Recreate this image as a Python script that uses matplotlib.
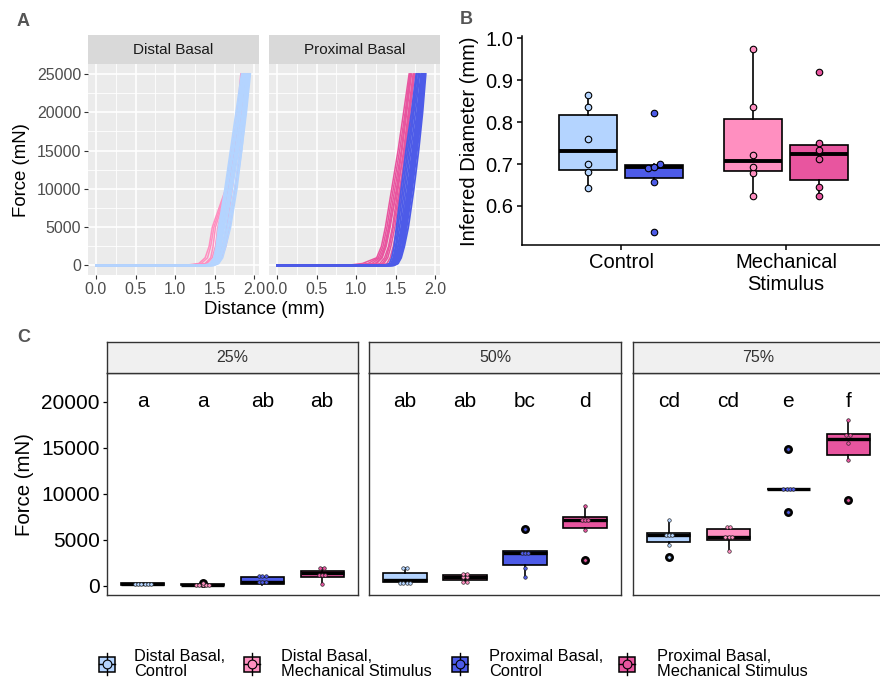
import numpy as np
import matplotlib.pyplot as plt
from matplotlib.patches import Rectangle
from matplotlib.ticker import MultipleLocator

plt.rcParams['font.family'] = ['Liberation Sans', 'DejaVu Sans']

W, H = 880, 684

GROUPS = ["Distal Basal,\nControl", "Distal Basal,\nMechanical Stimulus",
          "Proximal Basal,\nControl", "Proximal Basal,\nMechanical Stimulus"]
COLORS = ["#B4D4FF", "#FF8FC0", "#4D5BE8", "#E8559F"]

# ---- panel A: force-distance curves (distance read at each force level)
FORCE_LEVELS = [0, 0, 250, 1000, 2500, 5000, 10000, 15000, 20000, 25000]
DISTAL_CONTROL = [
    [0, 1.36, 1.44, 1.49, 1.52, 1.55, 1.63, 1.70, 1.77, 1.84],
    [0, 1.40, 1.47, 1.51, 1.54, 1.57, 1.65, 1.72, 1.79, 1.85],
    [0, 1.42, 1.49, 1.52, 1.55, 1.58, 1.66, 1.74, 1.81, 1.87],
    [0, 1.44, 1.50, 1.54, 1.57, 1.60, 1.68, 1.76, 1.83, 1.89],
    [0, 1.45, 1.51, 1.55, 1.58, 1.62, 1.70, 1.78, 1.85, 1.90],
    [0, 1.46, 1.52, 1.56, 1.60, 1.64, 1.72, 1.80, 1.87, 1.92],
    [0, 1.47, 1.53, 1.57, 1.61, 1.66, 1.75, 1.82, 1.88, 1.93],
    [0, 1.49, 1.54, 1.58, 1.62, 1.68, 1.77, 1.84, 1.90, 1.95],
    [0, 1.43, 1.50, 1.53, 1.56, 1.59, 1.69, 1.79, 1.86, 1.91],
    [0, 1.41, 1.48, 1.52, 1.55, 1.61, 1.71, 1.77, 1.82, 1.88],
    [0, 1.48, 1.55, 1.60, 1.64, 1.70, 1.78, 1.84, 1.89, 1.94],
    [0, 1.39, 1.46, 1.50, 1.53, 1.56, 1.64, 1.73, 1.80, 1.86],
]
DISTAL_STIM = [
    [0, 1.12, 1.30, 1.38, 1.43, 1.47, 1.64, 1.72, 1.79, 1.83],
    [0, 1.18, 1.33, 1.41, 1.45, 1.49, 1.65, 1.73, 1.80, 1.84],
    [0, 1.22, 1.38, 1.45, 1.48, 1.51, 1.66, 1.74, 1.81, 1.85],
    [0, 1.30, 1.44, 1.50, 1.53, 1.56, 1.67, 1.75, 1.82, 1.86],
    [0, 1.38, 1.48, 1.55, 1.60, 1.65, 1.72, 1.79, 1.85, 1.90],
    [0, 1.45, 1.53, 1.59, 1.64, 1.69, 1.76, 1.82, 1.87, 1.92],
    [0, 1.35, 1.46, 1.51, 1.55, 1.60, 1.68, 1.76, 1.83, 1.87],
    [0, 1.25, 1.40, 1.47, 1.51, 1.54, 1.66, 1.75, 1.82, 1.86],
]
PROXIMAL_CONTROL = [
    [0, 1.36, 1.42, 1.45, 1.48, 1.51, 1.57, 1.63, 1.70, 1.76],
    [0, 1.38, 1.44, 1.47, 1.50, 1.53, 1.59, 1.65, 1.72, 1.77],
    [0, 1.40, 1.45, 1.48, 1.51, 1.55, 1.61, 1.67, 1.73, 1.79],
    [0, 1.41, 1.46, 1.50, 1.53, 1.57, 1.63, 1.69, 1.75, 1.80],
    [0, 1.43, 1.48, 1.51, 1.55, 1.59, 1.65, 1.71, 1.77, 1.82],
    [0, 1.44, 1.49, 1.53, 1.56, 1.60, 1.67, 1.73, 1.79, 1.84],
    [0, 1.45, 1.50, 1.54, 1.58, 1.62, 1.69, 1.75, 1.81, 1.85],
    [0, 1.47, 1.52, 1.56, 1.60, 1.64, 1.71, 1.77, 1.83, 1.87],
    [0, 1.48, 1.53, 1.57, 1.61, 1.66, 1.73, 1.79, 1.84, 1.88],
    [0, 1.42, 1.47, 1.52, 1.56, 1.61, 1.68, 1.74, 1.80, 1.84],
    [0, 1.39, 1.45, 1.49, 1.53, 1.58, 1.66, 1.72, 1.78, 1.83],
    [0, 1.46, 1.51, 1.55, 1.59, 1.63, 1.70, 1.76, 1.82, 1.86],
]
PROXIMAL_STIM = [
    [0, 0.88, 1.08, 1.26, 1.32, 1.37, 1.45, 1.53, 1.60, 1.67],
    [0, 0.95, 1.15, 1.28, 1.34, 1.39, 1.47, 1.55, 1.62, 1.68],
    [0, 1.05, 1.20, 1.30, 1.36, 1.41, 1.49, 1.57, 1.63, 1.69],
    [0, 1.15, 1.26, 1.33, 1.38, 1.43, 1.51, 1.58, 1.64, 1.70],
    [0, 1.22, 1.30, 1.36, 1.41, 1.46, 1.53, 1.60, 1.66, 1.72],
    [0, 1.28, 1.35, 1.40, 1.44, 1.49, 1.56, 1.62, 1.68, 1.74],
    [0, 1.32, 1.39, 1.43, 1.47, 1.52, 1.59, 1.65, 1.71, 1.76],
    [0, 1.25, 1.33, 1.38, 1.42, 1.47, 1.55, 1.63, 1.70, 1.77],
    [0, 1.10, 1.24, 1.32, 1.37, 1.42, 1.52, 1.61, 1.67, 1.73],
]

# ---- panel B: inferred diameter (mm)
TREATMENTS = ["Control", "Mechanical\nStimulus"]
DIAM_DISTAL_CONTROL = [0.644, 0.681, 0.701, 0.760, 0.837, 0.864]
DIAM_PROXIMAL_CONTROL = [0.537, 0.658, 0.691, 0.694, 0.699, 0.822]
DIAM_DISTAL_STIM = [0.623, 0.679, 0.694, 0.721, 0.836, 0.975]
DIAM_PROXIMAL_STIM = [0.623, 0.645, 0.713, 0.734, 0.750, 0.919]

# ---- panel C: force at 25/50/75 % (box stats per level, per group)
LEVELS = ["25%", "50%", "75%"]
C_Q1 = [[110, 30, 190, 950], [450, 650, 2300, 6300], [4700, 5020, 10480, 14200]]
C_MED = [[190, 90, 380, 1420], [620, 900, 3580, 7150], [5550, 5300, 10480, 16000]]
C_Q3 = [[260, 170, 980, 1620], [1400, 1150, 3800, 7430], [5720, 6130, 10480, 16450]]
C_WLO = [[80, 0, 120, 150], [330, 450, 1000, 6050], [4400, 3770, 10480, 13660]]
C_WHI = [[320, 210, 1050, 1950], [1900, 1300, 3800, 8700], [7100, 6380, 10480, 17980]]
C_FLIERS = [[[], [330], [], []],
            [[], [], [6160], [2830]],
            [[3100], [], [8045, 14860], [9315]]]
C_POINTS = [
    [[205, 205, 210, 210, 215, 215], [100, 105, 110, 115, 120],
     [370, 380, 390, 1030, 1040, 1050], [150, 1120, 1130, 1140, 1950, 1960]],
    [[330, 330, 330, 330, 1890, 1900], [450, 450, 900, 900, 1300, 1300],
     [1000, 1960, 3560, 3580, 3600], [6050, 7130, 7150, 7170, 8700]],
    [[4390, 5540, 5550, 5560, 7110], [3770, 5290, 5300, 5310, 6370, 6390],
     [10470, 10480, 10490, 10500], [13660, 15540, 16390, 16410, 17980]],
]
C_LETTERS = [["a", "a", "ab", "ab"], ["ab", "ab", "bc", "d"], ["cd", "cd", "e", "f"]]


def px_box(l, t, r, b):
    return [l / W, 1 - b / H, (r - l) / W, (b - t) / H]


def swarm(vals, tol, step):
    vals = np.asarray(vals, float)
    order = np.argsort(vals)
    offs = np.zeros(len(vals))
    groups, cur = [], [order[0]]
    for i in order[1:]:
        if vals[i] - vals[cur[-1]] < tol:
            cur.append(i)
        else:
            groups.append(cur)
            cur = [i]
    groups.append(cur)
    for g in groups:
        for k, idx in enumerate(g):
            offs[idx] = (k - (len(g) - 1) / 2) * step
    return offs


def strip(rect, label, face, size, edge=None, color='#1A1A1A'):
    s = fig.add_axes(rect)
    s.set_facecolor(face)
    s.set_xticks([])
    s.set_yticks([])
    for sp in s.spines.values():
        if edge is None:
            sp.set_visible(False)
        else:
            sp.set_color(edge)
            sp.set_linewidth(1.0)
    s.text(0.5, 0.5, label, ha='center', va='center', fontsize=size,
           color=color, transform=s.transAxes)


fig = plt.figure(figsize=(W / 100, H / 100), dpi=100)

# ================= A =================
panels_a = [("Distal Basal", DISTAL_CONTROL, DISTAL_STIM, COLORS[0], COLORS[1], 88, 259),
            ("Proximal Basal", PROXIMAL_CONTROL, PROXIMAL_STIM, COLORS[2], COLORS[3], 269, 440)]
for k, (name, ctrl, stim, c_ctrl, c_stim, left, right) in enumerate(panels_a):
    ax = fig.add_axes(px_box(left, 64, right, 275))
    ax.set_facecolor('#EBEBEB')
    for d in stim:
        ax.plot(d, FORCE_LEVELS, color=c_stim, lw=1.1, zorder=2)
    for d in ctrl:
        ax.plot(d, FORCE_LEVELS, color=c_ctrl, lw=1.3, zorder=3)
    ax.set_xlim(-0.1, 2.06)
    ax.set_ylim(-1250, 26300)
    ax.set_xticks([0, 0.5, 1.0, 1.5, 2.0])
    ax.set_xticklabels(["0.0", "0.5", "1.0", "1.5", "2.0"])
    ax.set_yticks([0, 5000, 10000, 15000, 20000, 25000])
    ax.xaxis.set_minor_locator(MultipleLocator(0.25))
    ax.yaxis.set_minor_locator(MultipleLocator(2500))
    ax.grid(which='major', color='white', lw=1.2, zorder=0)
    ax.grid(which='minor', color='white', lw=0.6, zorder=0)
    ax.set_axisbelow(True)
    for sp in ax.spines.values():
        sp.set_visible(False)
    ax.tick_params(which='minor', length=0)
    ax.tick_params(which='major', length=3, width=0.8, color='#333333',
                   labelsize=11.5, labelcolor='#4D4D4D', pad=2)
    if k == 1:
        ax.tick_params(axis='y', left=False, labelleft=False)
    strip(px_box(left, 35, right, 64), name, '#D9D9D9', 11)

fig.text(22 / W, 1 - 170 / H, "Force (mN)", rotation=90, ha='center', va='center', fontsize=13.4)
fig.text(264 / W, 1 - 309 / H, "Distance (mm)", ha='center', va='center', fontsize=13.4)

# ================= B =================
axb = fig.add_axes(px_box(522, 36, 885, 245))
b_data = [DIAM_DISTAL_CONTROL, DIAM_PROXIMAL_CONTROL, DIAM_DISTAL_STIM, DIAM_PROXIMAL_STIM]
b_cols = [COLORS[0], COLORS[2], COLORS[1], COLORS[3]]
b_pos = np.array([1 - 0.2, 1 + 0.2, 2 - 0.2, 2 + 0.2])
bp = axb.boxplot(b_data, positions=b_pos, widths=0.35, patch_artist=True, showcaps=False,
                 manage_ticks=False,
                 boxprops=dict(edgecolor='black', lw=1.2),
                 whiskerprops=dict(color='black', lw=1.2),
                 medianprops=dict(color='black', lw=2.8),
                 flierprops=dict(marker='o', mfc='black', mec='black', ms=3.2))
for patch, c in zip(bp['boxes'], b_cols):
    patch.set_facecolor(c)
for vals, p, c in zip(b_data, b_pos, b_cols):
    axb.scatter(p + swarm(vals, 0.006, 0.035), vals, s=22, color=c,
                edgecolors='black', linewidths=0.8, zorder=4)
axb.set_xlim(0.4, 2.6)
axb.set_ylim(0.507, 1.005)
axb.set_xticks([1, 2])
axb.set_xticklabels(TREATMENTS)
axb.set_yticks([0.6, 0.7, 0.8, 0.9, 1.0])
axb.set_yticklabels(["0.6", "0.7", "0.8", "0.9", "1.0"])
for side in ['top', 'right']:
    axb.spines[side].set_visible(False)
for side in ['left', 'bottom']:
    axb.spines[side].set_linewidth(1.1)
axb.tick_params(length=3.6, width=1.1, labelsize=14.5, pad=2.5)
fig.text(469 / W, 1 - 141 / H, "Inferred Diameter (mm)", rotation=90, ha='center',
         va='center', fontsize=14.5)

# ================= C =================
c_lefts = [(107, 358), (369, 621), (633, 884)]
for li, (left, right) in enumerate(c_lefts):
    ax = fig.add_axes(px_box(left, 373, right, 595))
    stats = []
    for g in range(4):
        stats.append(dict(q1=C_Q1[li][g], med=C_MED[li][g], q3=C_Q3[li][g],
                          whislo=C_WLO[li][g], whishi=C_WHI[li][g],
                          fliers=C_FLIERS[li][g]))
    pos = np.arange(1, 5)
    bx = ax.bxp(stats, positions=pos, widths=0.72, patch_artist=True, showcaps=False,
                manage_ticks=False,
                boxprops=dict(edgecolor='black', lw=1.2),
                whiskerprops=dict(color='black', lw=1.2),
                medianprops=dict(color='black', lw=2.4),
                flierprops=dict(marker='o', mfc='black', mec='black', ms=5.4))
    for patch, c in zip(bx['boxes'], COLORS):
        patch.set_facecolor(c)
    for g in range(4):
        vals = C_POINTS[li][g] + C_FLIERS[li][g]
        ax.scatter(pos[g] + swarm(vals, 150, 0.055), vals, s=6.5, color=COLORS[g],
                   edgecolors='#222222', linewidths=0.45, zorder=5)
        ax.text(pos[g], 20000, C_LETTERS[li][g], ha='center', va='center', fontsize=15)
    ax.set_xlim(0.4, 4.6)
    ax.set_ylim(-1010, 23120)
    ax.set_xticks([])
    for sp in ax.spines.values():
        sp.set_color('#333333')
        sp.set_linewidth(1.0)
    if li == 0:
        ax.set_yticks([0, 5000, 10000, 15000, 20000])
        ax.tick_params(axis='y', length=3.2, width=0.9, labelsize=15, pad=2)
    else:
        ax.set_yticks([])
    strip(px_box(left, 342, right, 373), LEVELS[li], '#F0F0F0', 11.5, edge='#333333',
          color='#333333')

fig.text(24 / W, 1 - 485 / H, "Force (mN)", rotation=90, ha='center', va='center', fontsize=14.7)

# ================= legend =================
leg = fig.add_axes(px_box(0, 640, W, H))
leg.set_xlim(0, W)
leg.set_ylim(H, 640)
leg.axis('off')
key_x = [107, 252, 460, 627]
text_x = [134, 281, 489, 657]
ky = 664
for kx, tx, c, lab in zip(key_x, text_x, COLORS, GROUPS):
    leg.plot([kx, kx], [ky - 11, ky + 11], color='black', lw=1.0)
    leg.add_patch(Rectangle((kx - 8, ky - 7.5), 16, 15, facecolor=c, edgecolor='black', lw=1.1))
    leg.plot([kx - 8, kx + 8], [ky, ky], color='black', lw=1.0)
    leg.scatter([kx], [ky], s=40, color=c, edgecolors='black', linewidths=0.8, zorder=5)
    leg.text(tx, ky, lab, ha='left', va='center', fontsize=11.8, linespacing=0.95)

# panel tags
for tag, x, y in [("A", 17, 21), ("B", 460, 19), ("C", 17, 337)]:
    fig.text(x / W, 1 - y / H, tag, ha='left', va='center', fontsize=13,
             fontweight='bold', color='#555555')

fig.savefig("out.png", dpi=100)
